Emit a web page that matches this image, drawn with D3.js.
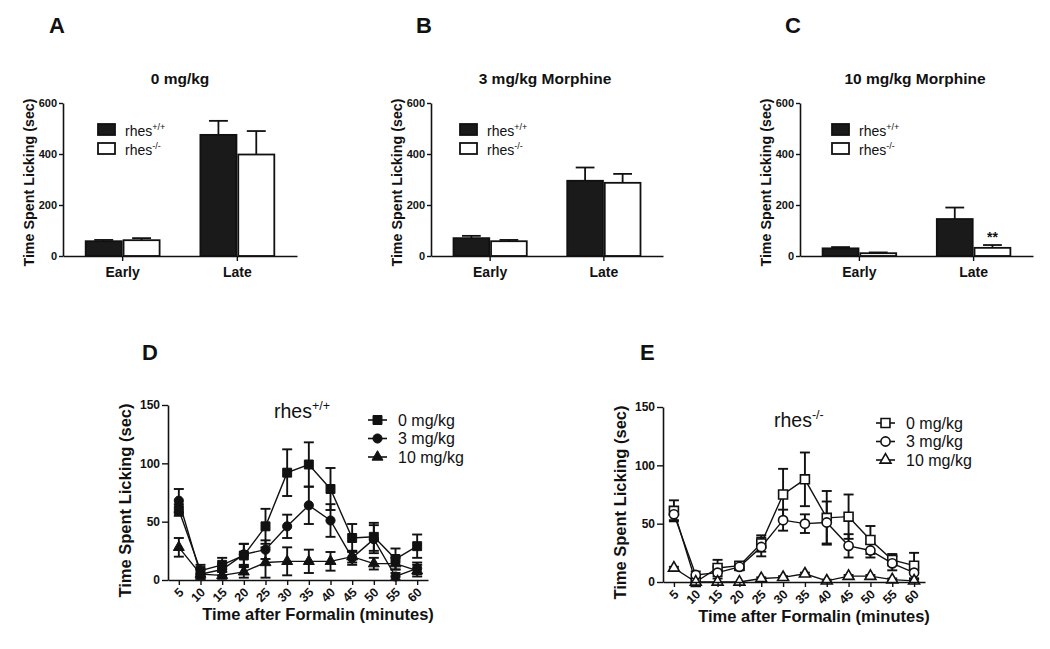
<!DOCTYPE html>
<html>
<head>
<meta charset="utf-8">
<script src="https://cdn.jsdelivr.net/npm/d3@7"></script>
<style>
  html, body { margin: 0; padding: 0; background: #fff; }
  svg { display: block; font-family: "Liberation Sans", Arial, sans-serif; }
</style>
</head>
<body>
<svg id="chart" width="1050" height="649"></svg>
<script>
// ---------- DATA ----------
const barGroups = ["Early", "Late"];
const barTicks = [0, 200, 400, 600];
const genotypes = ["+/+", "-/-"];

// Panel A: 0 mg/kg
const aWT = [58, 475], aWTErr = [5, 55];
const aKO = [62, 398], aKOErr = [8, 92];
// Panel B: 3 mg/kg Morphine
const bWT = [70, 295], bWTErr = [9, 52];
const bKO = [58, 287], bKOErr = [5, 35];
// Panel C: 10 mg/kg Morphine
const cWT = [30, 145], cWTErr = [5, 45];
const cKO = [11, 32], cKOErr = [3, 11];

const times = [5, 10, 15, 20, 25, 30, 35, 40, 45, 50, 55, 60];
const lineTicks = [0, 50, 100, 150];
const doseLabels = ["0 mg/kg", "3 mg/kg", "10 mg/kg"];

// Panel D: rhes+/+
const d0 = [60, 8, 13, 21, 46, 92, 99, 78, 36, 37, 18, 29];
const d0Err = [5, 5, 6, 10, 15, 20, 19, 18, 12, 12, 9, 10];
const d3v = [68, 5, 9, 22, 26, 46, 64, 51, 19, 35, 3, 10];
const d3Err = [10, 4, 5, 9, 8, 10, 16, 14, 6, 12, 3, 5];
const d10 = [28, 5, 4, 7, 15, 16, 16, 16, 20, 14, 14, 8];
const d10Err = [8, 4, 3, 5, 13, 12, 10, 8, 5, 5, 5, 5];

// Panel E: rhes-/-
const e0 = [61, 0, 12, 14, 33, 75, 88, 55, 56, 36, 19, 14];
const e0Err = [9, 2, 7, 3, 7, 22, 23, 23, 19, 12, 5, 11];
const e3 = [58, 6, 8, 13, 30, 53, 50, 51, 31, 27, 16, 8];
const e3Err = [5, 3, 5, 3, 8, 9, 8, 18, 10, 6, 6, 5];
const e10 = [12, 0, 0, 0, 3, 4, 7, 1, 5, 5, 2, 1];
const e10Err = [1, 0, 0, 0, 1, 1, 1, 1, 1, 1, 1, 1];

// ---------- DRAWING ----------
const svg = d3.select("#chart");
svg.append("rect").attr("width", 1050).attr("height", 649).attr("fill", "#fff");
const INK = "#111";

function styleAxis(g, fontSize) {
  g.select(".domain").attr("stroke", INK).attr("stroke-width", 1.6);
  g.selectAll(".tick line").attr("stroke", INK).attr("stroke-width", 1.4);
  g.selectAll(".tick text").attr("fill", INK).attr("font-weight", "bold")
    .attr("font-size", fontSize).attr("font-family", "Liberation Sans, Arial, sans-serif");
}

function rhesText(sel, x, y, size, supSize, sup, weight) {
  const t = sel.append("text").attr("x", x).attr("y", y).attr("font-size", size)
    .attr("fill", INK).attr("font-weight", weight || "normal");
  t.append("tspan").text("rhes");
  t.append("tspan").attr("font-size", supSize).attr("dy", -size * 0.42).text(sup);
  return t;
}

function drawBarPanel(cfg) {
  const g = svg.append("g");
  const yB = 256, yT = 103;
  const x = d3.scaleBand().domain(barGroups).range([cfg.x0, cfg.x1])
    .paddingInner(0.34).paddingOuter(0.19);
  const sub = d3.scaleBand().domain([0, 1]).range([0, x.bandwidth()]);
  const y = d3.scaleLinear().domain([0, 600]).range([yB, yT]);

  const data = barGroups.flatMap((grp, i) => [
    { grp, s: 0, v: cfg.wt[i], e: cfg.wtErr[i] },
    { grp, s: 1, v: cfg.ko[i], e: cfg.koErr[i] }
  ]);
  const w = sub.bandwidth();

  // error bars (upper only)
  const eb = g.append("g").attr("stroke", INK).attr("stroke-width", 1.8);
  data.forEach(d => {
    const cx = x(d.grp) + sub(d.s) + w / 2;
    eb.append("line").attr("x1", cx).attr("x2", cx).attr("y1", y(d.v)).attr("y2", y(d.v + d.e));
    eb.append("line").attr("x1", cx - w / 4).attr("x2", cx + w / 4)
      .attr("y1", y(d.v + d.e)).attr("y2", y(d.v + d.e));
  });

  g.append("g").selectAll("rect").data(data).join("rect")
    .attr("x", d => x(d.grp) + sub(d.s) + 0.9)
    .attr("y", d => y(d.v))
    .attr("width", w - 1.8)
    .attr("height", d => y(0) - y(d.v))
    .attr("fill", d => d.s === 0 ? "#1a1a1a" : "#fff")
    .attr("stroke", INK).attr("stroke-width", 1.8);

  const ya = g.append("g").attr("transform", `translate(${cfg.x0},0)`)
    .call(d3.axisLeft(y).tickValues(barTicks).tickSize(4).tickSizeOuter(0).tickPadding(2));
  styleAxis(ya, 11);
  const xa = g.append("g").attr("transform", `translate(0,${yB})`)
    .call(d3.axisBottom(x).tickSize(5).tickSizeOuter(0).tickPadding(6));
  styleAxis(xa, 14);

  // y label
  g.append("text").attr("transform", `translate(${cfg.x0 - 34},${(yB + yT) / 2 + 3}) rotate(-90)`)
    .attr("text-anchor", "middle").attr("dy", "0.35em")
    .attr("font-size", 14.3).attr("font-weight", "bold").attr("fill", INK)
    .text("Time Spent Licking (sec)");

  // title
  g.append("text").attr("x", cfg.titleX).attr("y", 84).attr("text-anchor", "middle")
    .attr("font-size", 15.5).attr("font-weight", "bold").attr("fill", INK).text(cfg.title);
  // panel letter
  g.append("text").attr("x", cfg.letterX).attr("y", 33)
    .attr("font-size", 22).attr("font-weight", "bold").attr("fill", INK).text(cfg.letter);

  // legend
  const lx = cfg.legendX;
  g.append("rect").attr("x", lx).attr("y", 124).attr("width", 17).attr("height", 11)
    .attr("fill", "#1a1a1a").attr("stroke", INK).attr("stroke-width", 1.8);
  g.append("rect").attr("x", lx).attr("y", 143).attr("width", 17).attr("height", 11)
    .attr("fill", "#fff").attr("stroke", INK).attr("stroke-width", 1.8);
  rhesText(g, lx + 27, 136, 14, 9, genotypes[0]);
  rhesText(g, lx + 27, 155, 14, 9, genotypes[1]);

  if (cfg.stars) {
    const i = barGroups.indexOf(cfg.stars.grp);
    const cx = x(barGroups[i]) + sub(1) + w / 2;
    g.append("text").attr("x", cx).attr("y", y(cfg.ko[i] + cfg.koErr[i]) - 3)
      .attr("text-anchor", "middle").attr("font-size", 14).attr("font-weight", "bold")
      .attr("fill", INK).text(cfg.stars.text);
  }
}

drawBarPanel({ x0: 63, x1: 297, wt: aWT, wtErr: aWTErr, ko: aKO, koErr: aKOErr,
  title: "0 mg/kg", titleX: 180, letter: "A", letterX: 49, legendX: 98 });
drawBarPanel({ x0: 431, x1: 663, wt: bWT, wtErr: bWTErr, ko: bKO, koErr: bKOErr,
  title: "3 mg/kg Morphine", titleX: 545, letter: "B", letterX: 416, legendX: 460 });
drawBarPanel({ x0: 800, x1: 1033, wt: cWT, wtErr: cWTErr, ko: cKO, koErr: cKOErr,
  title: "10 mg/kg Morphine", titleX: 915, letter: "C", letterX: 785, legendX: 832,
  stars: { grp: "Late", text: "**" } });

const symbolTypes = [d3.symbolSquare, d3.symbolCircle, d3.symbolTriangle];
const symbolSizes = [80, 66, 52];

function drawLinePanel(cfg) {
  const g = svg.append("g");
  const x = d3.scalePoint().domain(times).range([cfg.x0, cfg.x1]).padding(0.5);
  const y = d3.scaleLinear().domain([0, 150]).range([cfg.yB, cfg.yT]);
  const fill = cfg.hollow ? "#fff" : INK;

  cfg.series.forEach((s, si) => {
    const pts = times.map((t, i) => ({ t, v: s.v[i], e: s.e[i] }));
    const eg = g.append("g").attr("stroke", INK).attr("stroke-width", 1.9);
    pts.forEach(p => {
      if (p.e <= 0) return;
      const cx = x(p.t);
      const lo = Math.max(0, p.v - p.e), hi = p.v + p.e;
      eg.append("line").attr("x1", cx).attr("x2", cx).attr("y1", y(lo)).attr("y2", y(hi));
      eg.append("line").attr("x1", cx - 5).attr("x2", cx + 5).attr("y1", y(hi)).attr("y2", y(hi));
      eg.append("line").attr("x1", cx - 5).attr("x2", cx + 5).attr("y1", y(lo)).attr("y2", y(lo));
    });
  });
  cfg.series.forEach((s, si) => {
    const pts = times.map((t, i) => ({ t, v: s.v[i] }));
    g.append("path").datum(pts)
      .attr("d", d3.line().x(d => x(d.t)).y(d => y(d.v)))
      .attr("fill", "none").attr("stroke", INK).attr("stroke-width", 1.4);
  });
  cfg.series.forEach((s, si) => {
    const sym = d3.symbol().type(symbolTypes[si]).size(symbolSizes[si]);
    g.append("g").selectAll("path").data(times.map((t, i) => ({ t, v: s.v[i] }))).join("path")
      .attr("transform", d => `translate(${x(d.t)},${y(d.v)})`)
      .attr("d", sym).attr("fill", fill).attr("stroke", INK).attr("stroke-width", cfg.hollow ? 1.6 : 1);
  });

  const ya = g.append("g").attr("transform", `translate(${cfg.x0},0)`)
    .call(d3.axisLeft(y).tickValues(lineTicks).tickSize(6).tickSizeOuter(0).tickPadding(2));
  styleAxis(ya, 12);
  const xa = g.append("g").attr("transform", `translate(0,${cfg.yB})`)
    .call(d3.axisBottom(x).tickSize(5).tickSizeOuter(0));
  styleAxis(xa, 12.5);
  xa.selectAll(".tick text")
    .attr("text-anchor", "end").attr("dy", 0).attr("y", 0)
    .attr("transform", "translate(5,13) rotate(-45)");

  g.append("text").attr("transform", `translate(${cfg.x0 - 43},${(cfg.yB + cfg.yT) / 2 + 8}) rotate(-90)`)
    .attr("text-anchor", "middle").attr("dy", "0.35em")
    .attr("font-size", 16.5).attr("font-weight", "bold").attr("fill", INK)
    .text("Time Spent Licking (sec)");
  g.append("text").attr("x", (cfg.x0 + cfg.x1) / 2 + 20).attr("y", cfg.yB + 40)
    .attr("text-anchor", "middle").attr("font-size", 16.5).attr("font-weight", "bold")
    .attr("fill", INK).text("Time after Formalin (minutes)");

  g.append("text").attr("x", cfg.letterX).attr("y", 360)
    .attr("font-size", 22).attr("font-weight", "bold").attr("fill", INK).text(cfg.letter);

  rhesText(g, cfg.titleX, cfg.titleY, 19.5, 12.5, cfg.sup);

  cfg.series.forEach((s, si) => {
    const ly = cfg.legendY + si * 18.5;
    g.append("line").attr("x1", cfg.legendX).attr("x2", cfg.legendX + 19)
      .attr("y1", ly).attr("y2", ly).attr("stroke", INK).attr("stroke-width", 1.6);
    g.append("path").attr("transform", `translate(${cfg.legendX + 9.5},${ly})`)
      .attr("d", d3.symbol().type(symbolTypes[si]).size(symbolSizes[si]))
      .attr("fill", fill).attr("stroke", INK).attr("stroke-width", cfg.hollow ? 1.6 : 1);
    g.append("text").attr("x", cfg.legendX + 30).attr("y", ly).attr("dy", "0.35em")
      .attr("font-size", 16).attr("fill", INK).text(doseLabels[si]);
  });
}

drawLinePanel({ x0: 168, x1: 428, yT: 405, yB: 580, hollow: false,
  series: [{ v: d0, e: d0Err }, { v: d3v, e: d3Err }, { v: d10, e: d10Err }],
  letter: "D", letterX: 142, titleX: 274, titleY: 418, sup: genotypes[0],
  legendX: 368, legendY: 420 });
drawLinePanel({ x0: 663, x1: 925, yT: 407, yB: 582, hollow: true,
  series: [{ v: e0, e: e0Err }, { v: e3, e: e3Err }, { v: e10, e: e10Err }],
  letter: "E", letterX: 640, titleX: 774, titleY: 427, sup: genotypes[1],
  legendX: 876, legendY: 423 });
</script>
</body>
</html>
